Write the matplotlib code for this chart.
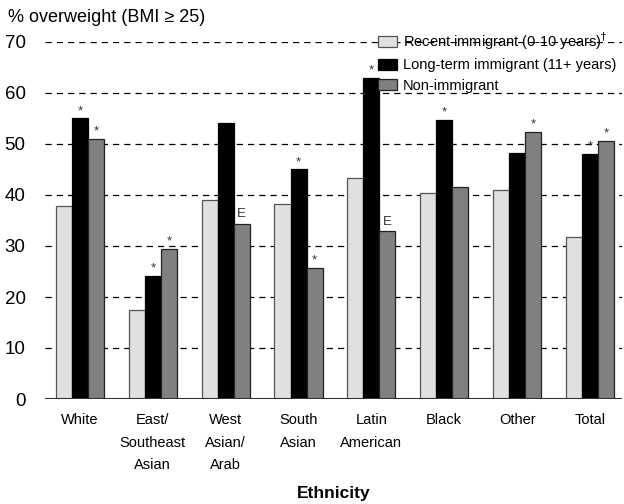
import matplotlib
matplotlib.use("Agg")
import matplotlib.pyplot as plt
import numpy as np
from matplotlib import font_manager

names = {f.name for f in font_manager.fontManager.ttflist}
fam = ['Liberation Sans Narrow', 'Liberation Sans', 'DejaVu Sans'] if 'Liberation Sans Narrow' in names else ['Liberation Sans', 'DejaVu Sans']
plt.rcParams['font.family'] = fam

categories = ["White", "East/\nSoutheast\nAsian", "West\nAsian/\nArab", "South\nAsian",
              "Latin\nAmerican", "Black", "Other", "Total"]
recent = [37.8, 17.4, 39.0, 38.2, 43.3, 40.3, 40.9, 31.8]
longterm = [55.0, 24.1, 54.2, 45.0, 63.0, 54.8, 48.3, 48.0]
nonimm = [51.0, 29.5, 34.4, 25.7, 32.9, 41.6, 52.3, 50.6]
mark_recent = ["", "", "", "", "", "", "", ""]
mark_long = ["*", "*", "", "*", "*", "*", "", "*"]
mark_non = ["*", "*", "E", "*", "E", "", "*", "*"]
series_labels = ["Recent immigrant (0-10 years)$^{\\dagger}$", "Long-term immigrant (11+ years)", "Non-immigrant"]
yticks = [0, 10, 20, 30, 40, 50, 60, 70]

fig = plt.figure(figsize=(6.24, 5.04), dpi=100)
ax = fig.add_axes([45/624, 1-399/504, 577/624, (399-42)/504])

x = np.arange(len(categories))
w = 0.22
colors = ["#e0e0e0", "#000000", "#808080"]
edges = ["#555555", "#000000", "#222222"]
series = [recent, longterm, nonimm]
marks = [mark_recent, mark_long, mark_non]
for i, (vals, col, ec, lab, mk) in enumerate(zip(series, colors, edges, series_labels, marks)):
    xs = x + (i - 1) * w
    ax.bar(xs, vals, width=w, color=col, edgecolor=ec, linewidth=0.9, label=lab, zorder=3)
    for xx, v, m in zip(xs, vals, mk):
        if m == "*":
            ax.text(xx, v + 0.3, "*", ha="center", va="bottom", fontsize=9.5, color="#333333", zorder=4)
        elif m == "E":
            ax.text(xx, v + 0.6, "E", ha="center", va="bottom", fontsize=9.5, color="#333333", zorder=4)

ax.set_xlim(-0.48, 7.44)
ax.set_ylim(0, 70)
ax.set_yticks(yticks)
ax.set_yticklabels([str(t) for t in yticks], fontsize=13.5)
for t in yticks[1:]:
    ax.axhline(t, color="black", linestyle=(0, (5, 4)), linewidth=0.9, zorder=1)
ax.axhline(0, color="#333333", linewidth=1.5, zorder=4)
for s in ax.spines.values():
    s.set_visible(False)
ax.tick_params(axis="y", length=0, pad=14)
ax.tick_params(axis="x", length=0, pad=10)
ax.set_xticks(x)
ax.set_xticklabels(categories, fontsize=10.5, linespacing=1.8, va="top")
ax.set_xlabel("Ethnicity", fontsize=12.5, fontweight="bold", labelpad=10)

fig.text(8/624, 1-18/504, "% overweight (BMI \u2265 25)", fontsize=13, va="center", ha="left")

leg = ax.legend(loc="upper right", bbox_to_anchor=(1.0, 1.05), frameon=False, fontsize=10.5,
                handlelength=1.3, handleheight=0.8, handletextpad=0.4, labelspacing=0.45,
                borderaxespad=0)
fig.savefig("out.png", dpi=100)
